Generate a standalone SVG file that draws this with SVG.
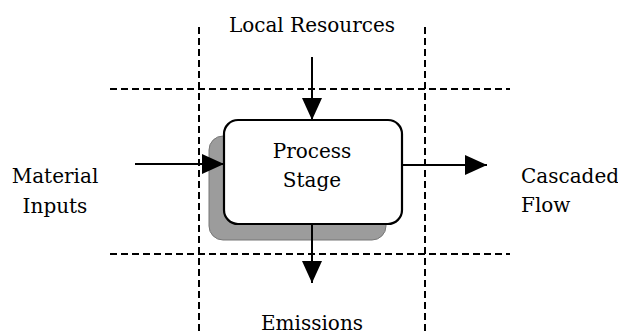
<svg xmlns="http://www.w3.org/2000/svg" width="618" height="335" viewBox="0 0 618 335">
<defs>
<style>
.dash{stroke:#000;stroke-width:2;stroke-dasharray:7 4;fill:none}
.ln{stroke:#000;stroke-width:2;fill:none}
.t{font-family:'DejaVu Serif',serif;font-size:20px;fill:#000}
.c{text-anchor:middle}
</style>
<marker id="ah" viewBox="0 0 22 22" refX="22" refY="11" markerWidth="22" markerHeight="22" markerUnits="userSpaceOnUse" orient="auto">
<path d="M0,1 L22,11 L0,21 Z" fill="#000"/>
</marker>
</defs>
<rect width="618" height="335" fill="#fff"/>
<g id="grid">
<line class="dash" x1="199" y1="27" x2="199" y2="335"/>
<line class="dash" x1="425" y1="27" x2="425" y2="335"/>
<line class="dash" x1="110" y1="89" x2="510" y2="89"/>
<line class="dash" x1="110" y1="254" x2="510" y2="254"/>
</g>
<g id="process">
<rect x="209" y="136" width="177" height="104" rx="14" fill="#9c9c9c" stroke="#777" stroke-width="1"/>
<rect x="224" y="120" width="178" height="104" rx="14" fill="#fff" stroke="#000" stroke-width="2.2"/>
<text class="t c" x="312" y="158">Process</text>
<text class="t c" x="312" y="187">Stage</text>
</g>
<g id="connectors">
<line class="ln" x1="312" y1="57" x2="312" y2="120" marker-end="url(#ah)"/>
<line class="ln" x1="135" y1="164" x2="224" y2="164" marker-end="url(#ah)"/>
<line class="ln" x1="402" y1="165" x2="487" y2="165" marker-end="url(#ah)"/>
<line class="ln" x1="312" y1="224" x2="312" y2="283" marker-end="url(#ah)"/>
</g>
<g id="local-resources"><text class="t c" x="312" y="32">Local Resources</text></g>
<g id="material-inputs"><text class="t c" x="55" y="183">Material</text><text class="t c" x="55" y="213">Inputs</text></g>
<g id="cascaded-flow"><text class="t" x="521" y="183">Cascaded</text><text class="t" x="521" y="212">Flow</text></g>
<g id="emissions"><text class="t c" x="312" y="330">Emissions</text></g>
</svg>
